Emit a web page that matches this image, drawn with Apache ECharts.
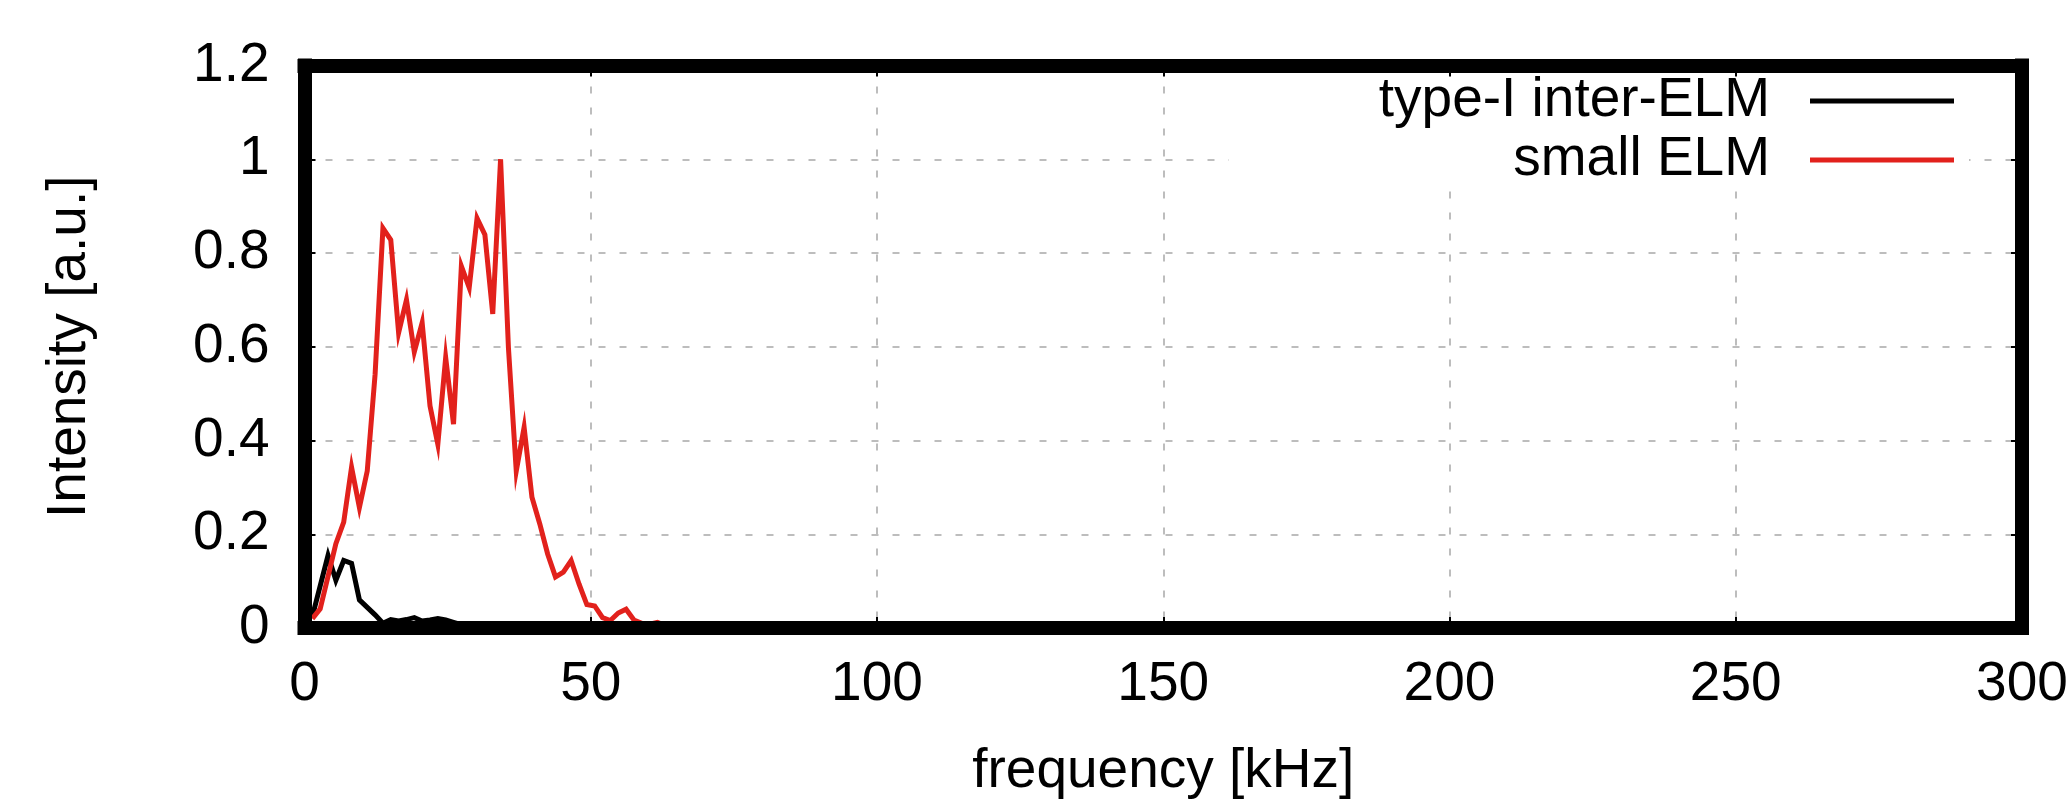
<!DOCTYPE html>
<html>
<head>
<meta charset="utf-8">
<script src="https://cdn.jsdelivr.net/npm/echarts@6/dist/echarts.min.js"></script>
<style>html,body{margin:0;padding:0;background:#fff}#c{width:2072px;height:804px}</style>
</head>
<body>
<div id="c"></div>
<script>
// frequency samples [kHz]
const freq = [1.37, 2.74, 4.11, 5.48, 6.85, 8.22, 9.59, 10.96, 12.33, 13.70,
  15.07, 16.44, 17.81, 19.18, 20.55, 21.92, 23.29, 24.66, 26.03, 27.40,
  28.77, 30.14, 31.51, 32.88, 34.25, 35.62, 36.99, 38.36, 39.73, 41.10,
  42.47, 43.84, 45.21, 46.58, 47.95, 49.32, 50.69, 52.06, 53.43, 54.80,
  56.17, 57.54, 58.91, 60.28, 61.65, 63.02];
// type-I inter-ELM intensity
const typeI = [0.025, 0.09, 0.155, 0.102, 0.144, 0.138, 0.06, 0.044, 0.028, 0.01,
  0.018, 0.015, 0.018, 0.022, 0.015, 0.017, 0.02, 0.017, 0.012, 0.007,
  0.005, 0.004, 0.004, 0.003, 0.003, 0.003, 0.003, 0.003, 0.003, 0.003];
// small ELM intensity
const smallELM = [0.02, 0.041, 0.11, 0.18, 0.226, 0.343, 0.257, 0.335, 0.541, 0.853,
  0.828, 0.63, 0.70, 0.589, 0.651, 0.474, 0.392, 0.577, 0.435, 0.772,
  0.726, 0.874, 0.839, 0.67, 1.0, 0.598, 0.335, 0.428, 0.279, 0.222,
  0.158, 0.109, 0.119, 0.144, 0.094, 0.05, 0.047, 0.022, 0.016, 0.032,
  0.04, 0.017, 0.01, 0.008, 0.012, 0.005];
const seriesNames = ['type-I inter-ELM', 'small ELM'];
const seriesColors = ['#000000', '#e2211c'];
const xRange = {min: 0, max: 300, interval: 50};
const yRange = {min: 0, max: 1.2, interval: 0.2};
const xTitle = 'frequency [kHz]';
const yTitle = 'Intensity [a.u.]';

const FONT = '"Liberation Sans", Arial, Helvetica, sans-serif';
const FS = 55;
const frameLine = {show: true, onZero: false, lineStyle: {color: '#000', width: 14, cap: 'square'}};
const tick = {show: true, inside: true, length: 11, lineStyle: {color: '#000', width: 2}};
const gridSplit = {show: true, lineStyle: {color: '#bdbdbd', width: 2, type: [7, 14]}};
const off = {show: false};

function pairs(xs, ys) { return ys.map((v, i) => [xs[i], v]); }

const chart = echarts.init(document.getElementById('c'), null, {renderer: 'canvas'});
chart.setOption({
  animation: false,
  backgroundColor: '#fff',
  grid: {left: 304.5, right: 50, top: 65.5, bottom: 165.3, containLabel: false},
  xAxis: [
    Object.assign({type: 'value', position: 'bottom', z: 10,
      axisLine: frameLine, axisTick: tick, splitLine: off,
      axisLabel: {color: '#000', fontSize: FS, fontFamily: FONT, margin: 29},
      name: xTitle, nameLocation: 'middle', nameGap: 116,
      nameTextStyle: {color: '#000', fontSize: FS, fontFamily: FONT}}, xRange),
    Object.assign({type: 'value', position: 'top', z: 10,
      axisLine: frameLine, axisTick: tick, splitLine: off, axisLabel: off}, xRange),
    Object.assign({type: 'value', position: 'bottom', z: 0,
      axisLine: off, axisTick: off, axisLabel: off, splitLine: gridSplit}, xRange)
  ],
  yAxis: [
    Object.assign({type: 'value', position: 'left', z: 10,
      axisLine: frameLine, axisTick: tick, splitLine: off,
      axisLabel: {color: '#000', fontSize: FS, fontFamily: FONT, margin: 35},
      name: yTitle, nameLocation: 'middle', nameGap: 207,
      nameTextStyle: {color: '#000', fontSize: FS, fontFamily: FONT}}, yRange),
    Object.assign({type: 'value', position: 'right', z: 10,
      axisLine: frameLine, axisTick: tick, splitLine: off, axisLabel: off}, yRange),
    Object.assign({type: 'value', position: 'left', z: 0,
      axisLine: off, axisTick: off, axisLabel: off, splitLine: gridSplit}, yRange)
  ],
  legend: {
    data: seriesNames,
    orient: 'vertical',
    align: 'right',
    right: 103,
    top: 65.5,
    padding: [8, 15, 2, 150],
    backgroundColor: '#fff',
    itemGap: 4,
    itemWidth: 144,
    itemHeight: 5,
    icon: 'rect',
    selectedMode: false,
    z: 4,
    textStyle: {color: '#000', fontSize: FS, fontFamily: FONT, padding: [0, 35, 0, 0]}
  },
  series: [
    {name: seriesNames[0], type: 'line', xAxisIndex: 0, yAxisIndex: 0,
     data: pairs(freq, typeI), showSymbol: false, color: seriesColors[0],
     lineStyle: {color: seriesColors[0], width: 5, join: 'miter'}},
    {name: seriesNames[1], type: 'line', xAxisIndex: 0, yAxisIndex: 0,
     data: pairs(freq, smallELM), showSymbol: false, color: seriesColors[1],
     lineStyle: {color: seriesColors[1], width: 5, join: 'miter'}}
  ]
});
</script>
</body>
</html>
